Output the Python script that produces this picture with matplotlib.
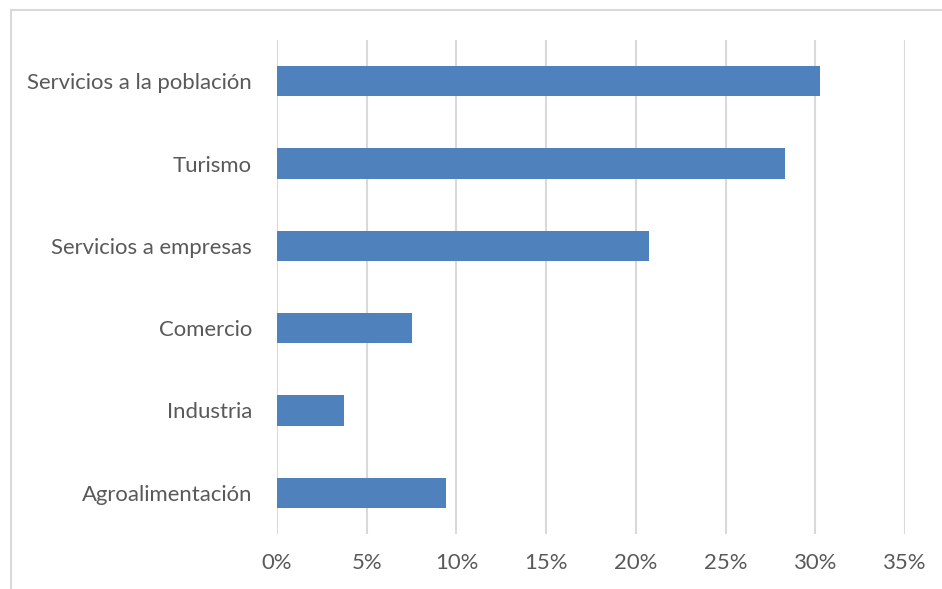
import matplotlib.pyplot as plt
from matplotlib.patches import Rectangle
from matplotlib.ticker import FuncFormatter

plt.rcParams["font.family"] = ["Lato", "DejaVu Sans"]

# datos del gráfico
categorias = ["Agroalimentación", "Industria", "Comercio",
              "Servicios a empresas", "Turismo", "Servicios a la población"]
porcentajes = [9.41, 3.74, 7.53, 20.76, 28.33, 30.25]
ticks_x = [0, 5, 10, 15, 20, 25, 30, 35]

W, H = 942, 589
fig = plt.figure(figsize=(W / 100, H / 100), dpi=100)

# marco del gráfico (recortado a la derecha y abajo)
fig.patches.append(Rectangle((11 / W, -0.1), 1.2, 1 - 10 / H + 0.1,
                             transform=fig.transFigure, fill=False,
                             edgecolor="#D9D9D9", linewidth=1.5))

ax = fig.add_axes([277 / W, 1 - 534 / H, (905 - 277) / W, (534 - 40) / H])
ax.barh(range(len(categorias)), porcentajes, height=0.365, color="#4F81BD", zorder=2)

ax.set_xlim(0, 35)
ax.set_ylim(-0.5, len(categorias) - 0.5)
ax.set_xticks(ticks_x)
ax.xaxis.set_major_formatter(FuncFormatter(lambda v, p: f"{v:.0f}%"))
ax.set_yticks(range(len(categorias)))
ax.set_yticklabels(categorias)

ax.grid(axis="x", color="#D9D9D9", linewidth=1.5, zorder=0)
for s in ax.spines.values():
    s.set_visible(False)
ax.tick_params(axis="both", length=0, labelsize=15.9, colors="#595959")
ax.tick_params(axis="x", pad=14)
ax.tick_params(axis="y", pad=18)

plt.savefig("out.png", dpi=100)
